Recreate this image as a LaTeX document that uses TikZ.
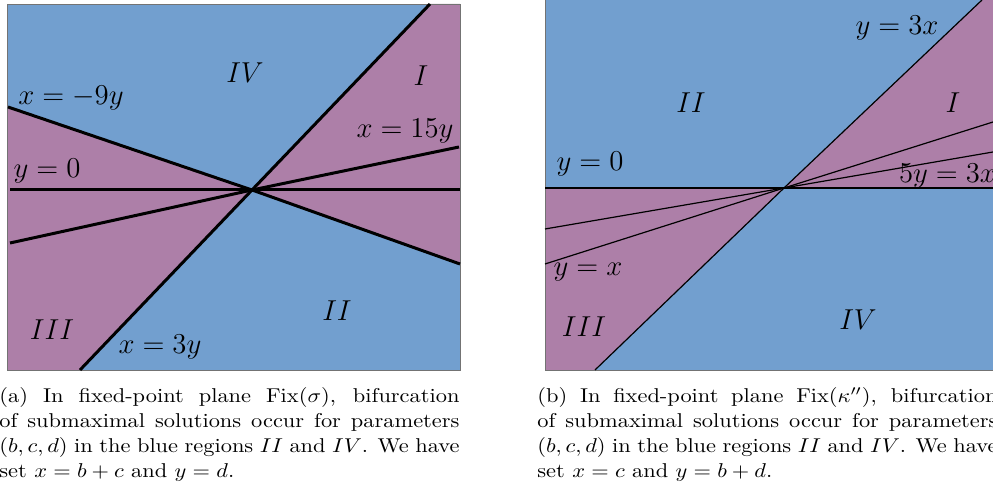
\documentclass[tikz,border=0pt]{standalone}
\usepackage{amsmath, amssymb}
\usepackage{graphicx}
\usepackage{xcolor}
\usepackage{tikz}
\usetikzlibrary{
calc
}
\definecolor{regblue}{HTML}{729FCF}
\definecolor{regplum}{HTML}{AD7FA8}
\newcommand{\capbox}[1]{\scalebox{1.12}[1]{\parbox[t]{205.4pt}{\fontsize{10}{12.5}\selectfont #1}}}
\tikzset{
  region/.style={font=\Large},
  linelabel/.style={font=\Large},
  captext/.style={anchor=base west, inner sep=0pt},
  boldline/.style={line width=1.5pt},
  fineline/.style={line width=0.6pt}
}
\begin{document}
\begin{tikzpicture}[x=0.5pt, y=-0.5pt]

\clip (0,0) rectangle (993,485);
\useasboundingbox (0,0) rectangle (993,485);

% Panel (a): Fix(sigma)
\coordinate (oa) at (252,190);
\fill[regblue] (7,4) rectangle (460,370);
\fill[regplum] (oa) -- (430,4) -- (460,4) -- (460,264) -- cycle;
\fill[regplum] (oa) -- (8,107) -- (8,370) -- (80,370) -- cycle;
\draw[black!55, line width=0.4pt] (7,4) rectangle (460,370);

\draw[boldline] (10,190) -- (460,190);
\draw[boldline] (8,107) -- (oa) -- (460,264);
\draw[boldline] (10,243) -- (oa) -- (459,147);
\draw[boldline] (430,4) -- (oa) -- (80,370);

\node[region] (IVa) at (245,73) {$IV$};
\node[region] (Ia) at (421,76) {$I$};
\node[region] (IIa) at (337,311) {$II$};
\node[region] (IIIa) at (52,330) {$III$};
\node[linelabel] (nineA) at (71,98) {$x=-9y$};
\node[linelabel] (fifteenA) at (405,131) {$x=15y$};
\node[linelabel] (zeroA) at (47,171) {$y=0$};
\node[linelabel] (threeA) at (160,347) {$x=3y$};

% Panel (b): Fix(kappa'')
\coordinate (ob) at (784,188);
\fill[regblue] (545,0) rectangle (1000,370);
\fill[regplum] (ob) -- (982,0) -- (1000,0) -- (1000,188) -- cycle;
\fill[regplum] (ob) -- (545,188) -- (545,370) -- (595,370) -- cycle;
\draw[black!55, line width=0.4pt] (545,0) -- (545,370) -- (1000,370);

\draw[fineline] (545,188) -- (1000,188);
\draw[fineline] (982,0) -- (ob) -- (595,370);
\draw[fineline] (545,229) -- (ob) -- (993,152);
\draw[fineline] (545,264) -- (ob) -- (993,122);

\node[region] (IIb) at (691,103) {$II$};
\node[region] (Ib) at (953,103) {$I$};
\node[region] (IIIb) at (584,327) {$III$};
\node[region] (IVb) at (858,320) {$IV$};
\node[linelabel] (threeB) at (897,28) {$y=3x$};
\node[linelabel] (zeroB) at (590,164) {$y=0$};
\node[linelabel] (diagB) at (588,272) {$y=x$};
\node[linelabel, anchor=west] (fiveB) at (892,176) {$5y=3x$};

% Captions
\node[captext] (capa) at (-1,403) {\capbox{(a) In fixed-point plane $\mathrm{Fix}(\sigma)$, bifurcation\linebreak of submaximal solutions occur for parameters\linebreak $(b,c,d)$ in the blue regions $II$ and $IV$. We have\linebreak set $x=b+c$ and $y=d$.}};
\node[captext] (capb) at (537,403) {\capbox{(b) In fixed-point plane $\mathrm{Fix}(\kappa'')$, bifurcation\linebreak of submaximal solutions occur for parameters\linebreak $(b,c,d)$ in the blue regions $II$ and $IV$. We have\linebreak set $x=c$ and $y=b+d$.}};

\end{tikzpicture}
\end{document}
